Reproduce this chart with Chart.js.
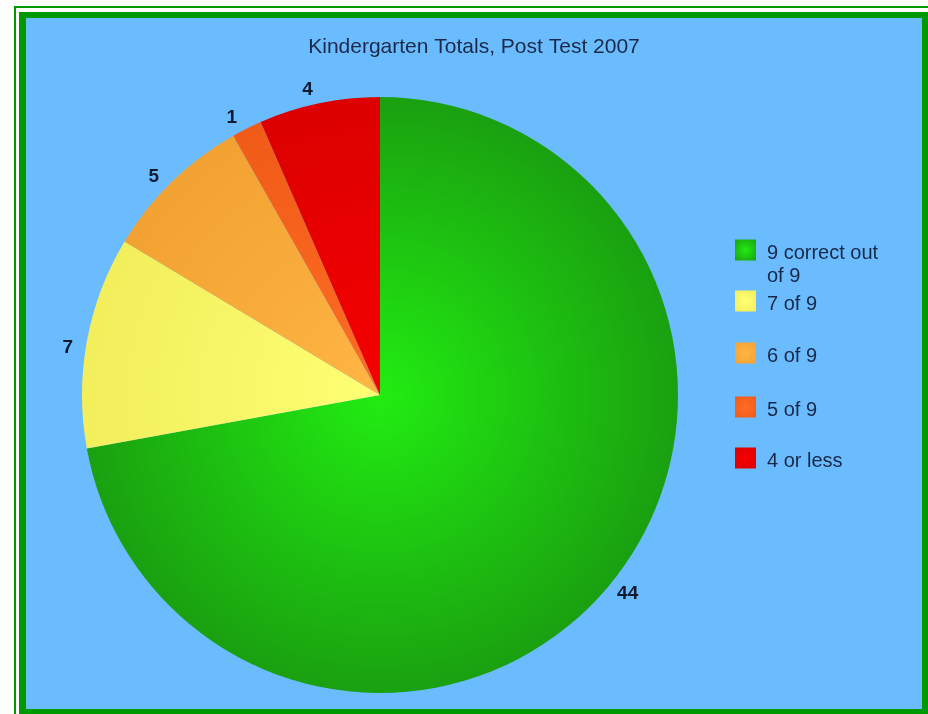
<!DOCTYPE html>
<html>
<head>
<meta charset="utf-8">
<script src="https://cdn.jsdelivr.net/npm/chart.js@4/dist/chart.umd.min.js"></script>
<style>
  html, body { margin: 0; padding: 0; background: #ffffff; overflow: hidden; }
  .frame-outer {
    position: absolute; left: 14px; top: 6px; width: 960px; height: 760px;
    border: 2px solid #009900; box-sizing: border-box;
  }
  .frame-inner {
    position: absolute; left: 19px; top: 12px; width: 896px; height: 691px;
    border-style: solid; border-color: #009900;
    border-width: 6px 6px 5px 7px;
    background: #6bbcfe;
  }
  #chartTotals { display: block; }
</style>
</head>
<body>
<div class="frame-outer"></div>
<div class="frame-inner">
  <canvas id="chartTotals" width="896" height="691"></canvas>
</div>
<script>
const chartTitle = 'Kindergarten Totals, Post Test 2007';
const categories = ['9 correct out of 9', '7 of 9', '6 of 9', '5 of 9', '4 or less'];
const studentCounts = [44, 7, 5, 1, 4];
// inner / outer shade for each slice
const innerColors = ['#22ec12', '#ffff74', '#ffb544', '#ff6c24', '#f60000'];
const outerColors = ['#1aa010', '#f2ee5c', '#f2a232', '#f05c18', '#dc0000'];

const FONT = '"Liberation Sans", Arial, sans-serif';

function sliceFill(context) {
  const chart = context.chart;
  const area = chart.chartArea;
  const i = context.dataIndex;
  if (!area) return innerColors[i];
  const cx = (area.left + area.right) / 2;
  const cy = (area.top + area.bottom) / 2;
  const r = Math.min(area.right - area.left, area.bottom - area.top) / 2;
  const g = chart.ctx.createRadialGradient(cx, cy, 0, cx, cy, r);
  g.addColorStop(0, innerColors[i]);
  g.addColorStop(1, outerColors[i]);
  return g;
}

// title centred over the whole canvas, not just the pie area
const canvasTitle = {
  id: 'canvasTitle',
  afterDraw(chart) {
    const ctx = chart.ctx;
    ctx.save();
    ctx.font = '21px ' + FONT;
    ctx.fillStyle = '#1b2a4a';
    ctx.textAlign = 'center';
    ctx.textBaseline = 'middle';
    ctx.fillText(chartTitle, chart.width / 2, 29);
    ctx.restore();
  }
};

// value printed just outside each slice
const sliceValues = {
  id: 'sliceValues',
  afterDatasetsDraw(chart) {
    const ctx = chart.ctx;
    const meta = chart.getDatasetMeta(0);
    ctx.save();
    ctx.font = 'bold 19px ' + FONT;
    ctx.fillStyle = '#101a30';
    ctx.textAlign = 'center';
    ctx.textBaseline = 'middle';
    meta.data.forEach((arc, i) => {
      const mid = (arc.startAngle + arc.endAngle) / 2 - 0.025;
      const d = arc.outerRadius + 18;
      ctx.fillText(String(studentCounts[i]), arc.x + Math.cos(mid) * d, arc.y + Math.sin(mid) * d + 2);
    });
    ctx.restore();
  }
};

// legend on the right, with wrapped labels
const sideLegend = {
  id: 'sideLegend',
  afterDraw(chart) {
    const ctx = chart.ctx;
    const boxX = 709, textX = 741, box = 21, maxW = 128;
    const rows = [232, 283, 335, 389, 440];
    ctx.save();
    ctx.font = '20px ' + FONT;
    ctx.textBaseline = 'middle';
    ctx.textAlign = 'left';
    categories.forEach((label, i) => {
      const cy = rows[i];
      const g = ctx.createRadialGradient(boxX + box / 2, cy, 0, boxX + box / 2, cy, box * 0.7);
      g.addColorStop(0, innerColors[i]);
      g.addColorStop(1, outerColors[i]);
      ctx.fillStyle = g;
      ctx.fillRect(boxX, cy - box / 2, box, box);

      const words = label.split(' ');
      const lines = [];
      let line = '';
      words.forEach(w => {
        const test = line ? line + ' ' + w : w;
        if (ctx.measureText(test).width > maxW && line) {
          lines.push(line);
          line = w;
        } else {
          line = test;
        }
      });
      lines.push(line);
      ctx.fillStyle = '#1a2848';
      lines.forEach((t, k) => ctx.fillText(t, textX, cy + 3 + k * 23));
    });
    ctx.restore();
  }
};

new Chart(document.getElementById('chartTotals').getContext('2d'), {
  type: 'pie',
  data: {
    labels: categories,
    datasets: [{
      data: studentCounts,
      backgroundColor: sliceFill,
      borderWidth: 0,
      hoverOffset: 0,
      offset: 0
    }]
  },
  options: {
    responsive: false,
    animation: false,
    events: [],
    layout: { padding: { left: 56, right: 244, top: 79, bottom: 16 } },
    plugins: {
      legend: { display: false },
      tooltip: { enabled: false },
      title: { display: false }
    }
  },
  plugins: [canvasTitle, sliceValues, sideLegend]
});
</script>
</body>
</html>
